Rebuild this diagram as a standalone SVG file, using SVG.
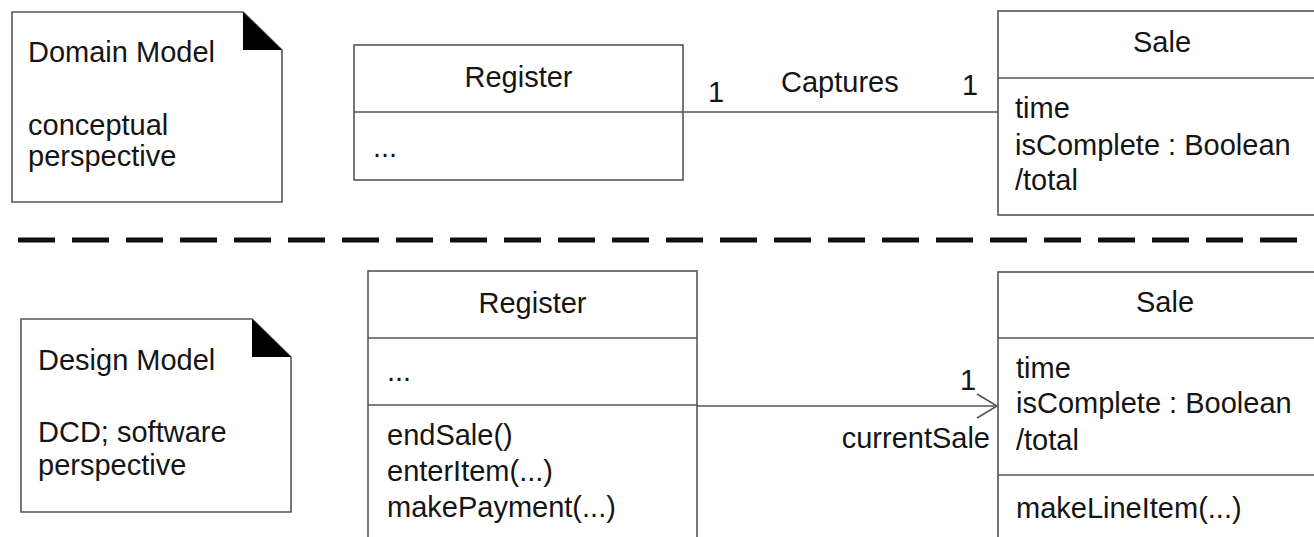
<svg xmlns="http://www.w3.org/2000/svg" width="1314" height="537" viewBox="0 0 1314 537">
<style>
text{font-family:"Liberation Sans",Arial,sans-serif;font-size:29px;fill:#151515}
.box{fill:#fff;stroke:#555;stroke-width:1.6}
.ln{stroke:#555;stroke-width:1.6;fill:none}
.mid{text-anchor:middle}
.end{text-anchor:end}
</style>
<rect width="1314" height="537" fill="#fff"/>
<g id="domain-note">
<path class="box" d="M12 12 H243 L282 50 V202 H12 Z"/>
<path d="M243 12 L282 50 H243 Z" fill="#000"/>
<text x="28" y="62">Domain Model</text>
<text x="28" y="135">conceptual</text>
<text x="28" y="166">perspective</text>
</g>
<g id="domain-register">
<rect class="box" x="354" y="45" width="329" height="135"/>
<line class="ln" x1="354" y1="112" x2="683" y2="112"/>
<text class="mid" x="518.5" y="87">Register</text>
<text x="373" y="157">...</text>
</g>
<g id="domain-sale">
<rect class="box" x="998" y="11" width="340" height="204"/>
<line class="ln" x1="998" y1="78" x2="1338" y2="78"/>
<text class="mid" x="1162" y="52">Sale</text>
<text x="1015" y="118">time</text>
<text x="1015" y="155">isComplete : Boolean</text>
<text x="1015" y="190">/total</text>
</g>
<g id="separator">
<line x1="18" y1="240" x2="1314" y2="240" stroke="#111" stroke-width="5" stroke-dasharray="37 17"/>
</g>
<g id="design-note">
<path class="box" d="M21 319 H252 L291 357 V512 H21 Z"/>
<path d="M252 319 L291 357 H252 Z" fill="#000"/>
<text x="38" y="370">Design Model</text>
<text x="38" y="442">DCD; software</text>
<text x="38" y="475">perspective</text>
</g>
<g id="design-register">
<rect class="box" x="368" y="271" width="329" height="280"/>
<line class="ln" x1="368" y1="338" x2="697" y2="338"/>
<line class="ln" x1="368" y1="405" x2="697" y2="405"/>
<text class="mid" x="532.5" y="313">Register</text>
<text x="387" y="381">...</text>
<text x="387" y="445">endSale()</text>
<text x="387" y="481">enterItem(...)</text>
<text x="387" y="517">makePayment(...)</text>
</g>
<g id="design-sale">
<rect class="box" x="998" y="272" width="340" height="280"/>
<line class="ln" x1="998" y1="338" x2="1338" y2="338"/>
<line class="ln" x1="998" y1="475" x2="1338" y2="475"/>
<text class="mid" x="1165" y="312">Sale</text>
<text x="1016" y="378">time</text>
<text x="1016" y="413">isComplete : Boolean</text>
<text x="1016" y="450">/total</text>
<text x="1016" y="518">makeLineItem(...)</text>
</g>
<g id="connectors">
<line class="ln" x1="683" y1="112" x2="998" y2="112"/>
<text x="708" y="102">1</text>
<text x="781" y="92">Captures</text>
<text x="962" y="95">1</text>
<line class="ln" x1="697" y1="406" x2="997" y2="406"/>
<path class="ln" d="M977 394 L997 406 L977 418"/>
<text x="960" y="390">1</text>
<text class="end" x="990" y="448">currentSale</text>
</g>
</svg>
